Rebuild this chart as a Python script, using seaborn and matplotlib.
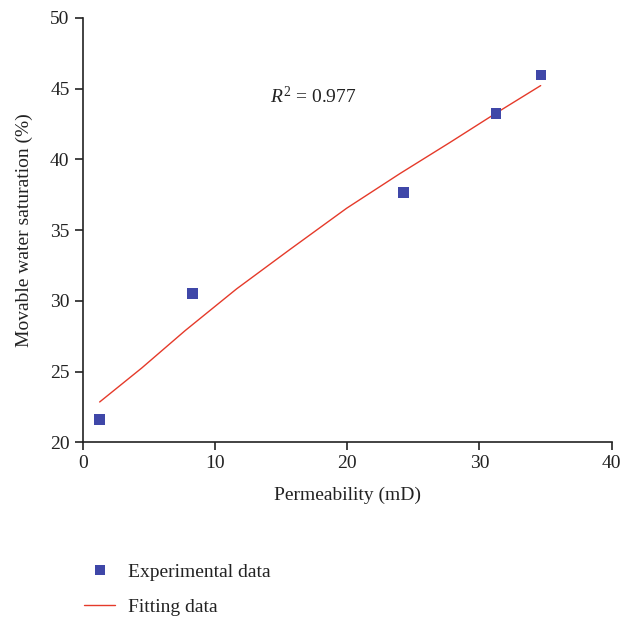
import matplotlib
matplotlib.use("Agg")
import matplotlib.pyplot as plt
import seaborn as sns
import pandas as pd
from matplotlib.lines import Line2D

# Data
perm_exp = [1.26, 8.32, 24.24, 31.25, 34.65]
sat_exp = [21.63, 30.51, 37.68, 43.27, 45.97]

perm_fit = [1.28, 4.46, 7.75, 11.64, 15.65, 19.96, 23.99, 27.77, 31.25, 34.63]
sat_fit = [22.85, 25.25, 27.90, 30.85, 33.62, 36.55, 39.00, 41.20, 43.27, 45.22]

x_ticks = [0, 10, 20, 30, 40]
y_ticks = [20, 25, 30, 35, 40, 45, 50]

sns.set_theme(style="ticks")
plt.rcParams["font.family"] = ["Liberation Serif", "DejaVu Serif"]
plt.rcParams["mathtext.fontset"] = "custom"
plt.rcParams["mathtext.rm"] = "Liberation Serif"
plt.rcParams["mathtext.it"] = "Liberation Serif:italic"

df_exp = pd.DataFrame({"perm": perm_exp, "sat": sat_exp})
df_fit = pd.DataFrame({"perm": perm_fit, "sat": sat_fit})

fig = plt.figure(figsize=(6.2, 6.18), dpi=100)
ax = fig.add_axes([0.1334, 0.2843, 0.8532, 0.6866])

blue = "#3f47a8"
red = "#e53a2a"
txt = "#222222"

sns.lineplot(data=df_fit, x="perm", y="sat", ax=ax, color=red, linewidth=1.0, sort=True)
sns.scatterplot(data=df_exp, x="perm", y="sat", ax=ax, marker="s", s=60, color=blue,
                edgecolor="none", zorder=3)

ax.set_xlim(0, 40)
ax.set_ylim(20, 50)
ax.set_xticks(x_ticks)
ax.set_yticks(y_ticks)
ax.tick_params(axis="both", direction="out", length=6, width=1.2, labelsize=14, colors=txt)
for s in ["top", "right"]:
    ax.spines[s].set_visible(False)
for s in ["left", "bottom"]:
    ax.spines[s].set_linewidth(1.2)
    ax.spines[s].set_color(txt)

ax.set_xlabel("Permeability (mD)", fontsize=14, color=txt, labelpad=10)
ax.set_ylabel("Movable water saturation (%)", fontsize=14, color=txt, labelpad=12)

ax.text(14.2, 44.0, r"$R^2$ = 0.977", fontsize=14, color=txt)

handles = [
    Line2D([], [], marker="s", linestyle="none", color=blue, markersize=7.8, markeredgewidth=0),
    Line2D([], [], color=red, linewidth=1.0),
]
fig.legend(handles, ["Experimental data", "Fitting data"], loc="upper left",
           bbox_to_anchor=(0.1355, 0.089), bbox_transform=fig.transFigure,
           frameon=False, fontsize=14, handlelength=1.6, handletextpad=0.67,
           labelspacing=0.9, borderaxespad=0, borderpad=0, labelcolor=txt)

fig.savefig("out.png", dpi=100)
